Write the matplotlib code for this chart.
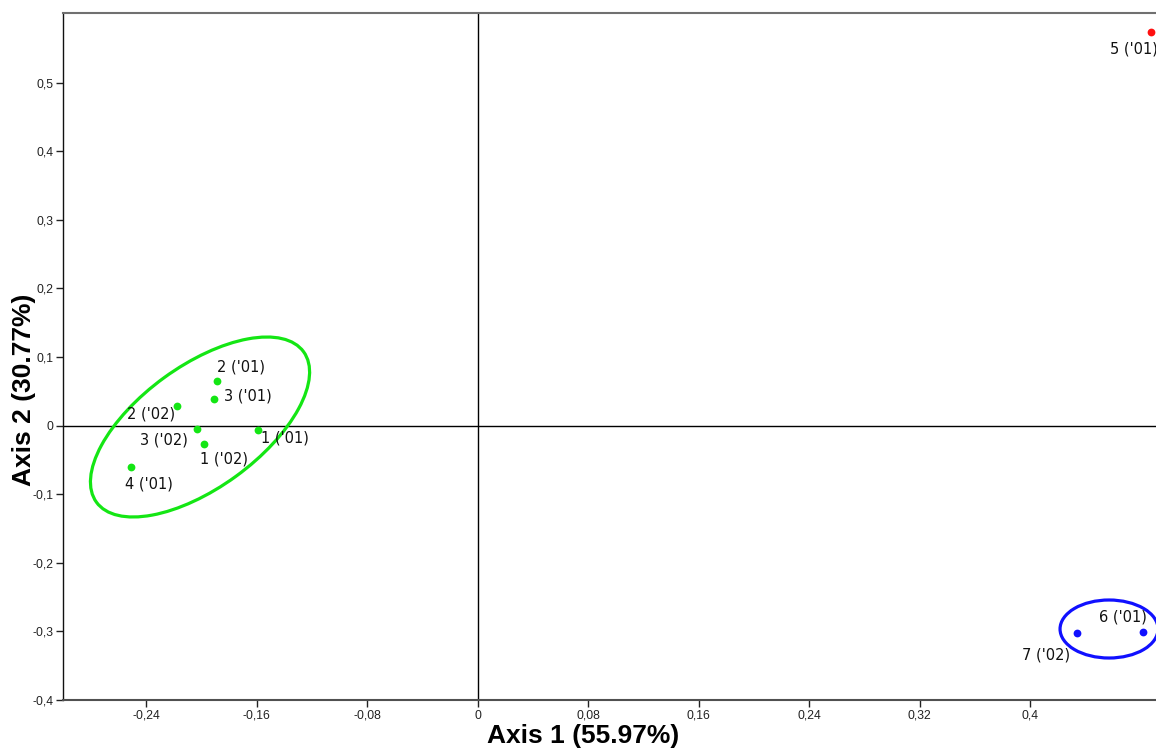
import matplotlib
matplotlib.use("Agg")
import matplotlib.pyplot as plt
from matplotlib.patches import Ellipse
from matplotlib.transforms import ScaledTranslation
from matplotlib.ticker import FixedLocator, FuncFormatter

plt.rcParams["axes.unicode_minus"] = False

# Sample scores on the first two ordination axes
labels = ["1 ('01)", "2 ('01)", "3 ('01)", "4 ('01)", "5 ('01)", "6 ('01)",
          "1 ('02)", "2 ('02)", "3 ('02)", "7 ('02)"]
axis1 = [-0.1588, -0.1889, -0.1909, -0.2510, 0.4874, 0.4820,
         -0.1979, -0.2179, -0.2034, 0.4343]
axis2 = [-0.0064, 0.0655, 0.0383, -0.0599, 0.5743, -0.3005,
         -0.0273, 0.0286, -0.0045, -0.3028]
group = ["g", "g", "g", "g", "r", "b", "g", "g", "g", "b"]

x_ticks = [-0.24, -0.16, -0.08, 0, 0.08, 0.16, 0.24, 0.32, 0.4]
y_ticks = [-0.4, -0.3, -0.2, -0.1, 0, 0.1, 0.2, 0.3, 0.4, 0.5]
x_title = "Axis 1 (55.97%)"
y_title = "Axis 2 (30.77%)"

colors = {"g": "#14e614", "r": "#ff1010", "b": "#1010ff"}

# label offsets from each point, in pixels (x right, y up)
label_offsets = {
    "1 ('01)": (27, -8), "2 ('01)": (24, 14), "3 ('01)": (34, 3),
    "4 ('01)": (18, -17), "5 ('01)": (-17, -17), "6 ('01)": (-20, 15),
    "1 ('02)": (20, -15), "2 ('02)": (-26, -8), "3 ('02)": (-33, -11),
    "7 ('02)": (-31, -22),
}

# group outlines: centre (data), width/height (inches), angle (deg)
outlines = [
    {"center": (-0.2010, -0.0020), "size": (2.56, 1.22), "angle": 36, "color": "g"},
    {"center": (0.4572, -0.2965), "size": (0.98, 0.58), "angle": 0, "color": "b"},
]

W, H = 1156, 751
fig = plt.figure(figsize=(W / 100, H / 100), dpi=100)
ax = fig.add_axes([63.3 / W, 1 - 700 / H, (W - 63.3) / W, (700 - 12.7) / H])
ax.set_xlim(-0.300, 0.4912)
ax.set_ylim(-0.400, 0.602)

ax.axhline(0, color="black", lw=1.0, zorder=1)
ax.axvline(0, color="black", lw=1.0, zorder=1)

for e in outlines:
    tr = fig.dpi_scale_trans + ScaledTranslation(e["center"][0], e["center"][1], ax.transData)
    ax.add_patch(Ellipse((0, 0), e["size"][0], e["size"][1], angle=e["angle"],
                         transform=tr, fill=False, edgecolor=colors[e["color"]],
                         lw=2.3, zorder=2))

for lab, x, y, g in zip(labels, axis1, axis2, group):
    ax.plot(x, y, "o", ms=5.6, color=colors[g], mec="none", zorder=3)
    dx, dy = label_offsets[lab]
    ax.annotate(lab, (x, y), xytext=(dx, dy), textcoords="offset pixels",
                ha="center", va="center", fontsize=10.5, family="DejaVu Sans",
                color="#111111", zorder=4, annotation_clip=False)

def comma(v, pos=None):
    s = f"{v:g}"
    if s in ("-0", "0"):
        return "0"
    return s.replace(".", ",")

ax.xaxis.set_major_locator(FixedLocator(x_ticks))
ax.yaxis.set_major_locator(FixedLocator(y_ticks))
ax.xaxis.set_major_formatter(FuncFormatter(comma))
ax.yaxis.set_major_formatter(FuncFormatter(comma))
ax.tick_params(axis="both", direction="out", length=5, width=1, colors="#222222",
               labelsize=8.7, pad=2)
for t in ax.get_xticklabels() + ax.get_yticklabels():
    t.set_family(["Liberation Sans", "DejaVu Sans"])

ax.spines["right"].set_visible(False)
ax.spines["left"].set_color("#111111")
ax.spines["left"].set_linewidth(1.0)
ax.spines["top"].set_color("#707070")
ax.spines["top"].set_linewidth(1.5)
ax.spines["bottom"].set_color("#505050")
ax.spines["bottom"].set_linewidth(1.5)

fig.text(583 / W, 1 - 736 / H, x_title, ha="center", va="center",
         fontsize=19, fontweight="bold", family=["Liberation Sans", "DejaVu Sans"])
fig.text(24 / W, 1 - 390 / H, y_title, ha="center", va="center", rotation=90,
         fontsize=19, fontweight="bold", family=["Liberation Sans", "DejaVu Sans"])

fig.savefig("out.png", dpi=100)
